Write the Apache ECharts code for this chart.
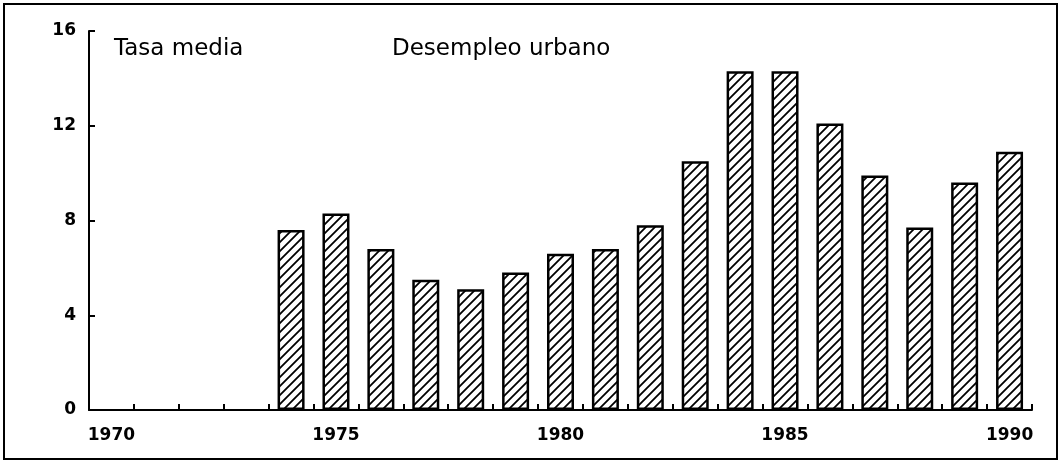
<!DOCTYPE html>
<html>
<head>
<meta charset="utf-8">
<script src="https://cdn.jsdelivr.net/npm/echarts@6/dist/echarts.min.js"></script>
<style>
  html, body { margin: 0; padding: 0; background: #fff; }
  #chart { width: 1063px; height: 461px; }
</style>
</head>
<body>
<div id="chart"></div>
<script>
// años del eje x (1970-1990)
var years = []
for (var y = 1970; y <= 1990; y++) years.push(String(y))

// desempleo urbano, tasa media (sin datos 1970-1973)
var desempleo = [null, null, null, null,
  7.6, 8.3, 6.8, 5.5, 5.1, 5.8, 6.6, 6.8, 7.8,
  10.5, 14.3, 14.3, 12.1, 9.9, 7.7, 9.6, 10.9]

var yTicks = [0, 4, 8, 12, 16]

// trama diagonal de las barras
function hatch() {
  var s = 9
  var c = document.createElement('canvas')
  c.width = s
  c.height = s
  var ctx = c.getContext('2d')
  ctx.fillStyle = '#fff'
  ctx.fillRect(0, 0, s, s)
  ctx.strokeStyle = '#000'
  ctx.lineWidth = 1.8
  ctx.beginPath()
  ctx.moveTo(0, s); ctx.lineTo(s, 0)
  ctx.moveTo(-2, 2); ctx.lineTo(2, -2)
  ctx.moveTo(s - 2, s + 2); ctx.lineTo(s + 2, s - 2)
  ctx.stroke()
  return c
}

var chart = echarts.init(document.getElementById('chart'))
var font = 'DejaVu Sans'

var option = {
  animation: false,
  backgroundColor: '#fff',
  grid: {
    left: 89,
    right: 31,
    top: 31,
    bottom: 51
  },
  graphic: [
    {
      type: 'rect',
      shape: { x: 4, y: 4, width: 1053, height: 455 },
      style: { fill: 'none', stroke: '#000', lineWidth: 2 }
    },
    {
      type: 'text',
      left: 114,
      top: 38,
      style: { text: 'Tasa media', font: '23px "DejaVu Sans"', fill: '#000' }
    },
    {
      type: 'text',
      left: 392,
      top: 38,
      style: { text: 'Desempleo urbano', font: '23px "DejaVu Sans"', fill: '#000' }
    }
  ],
  xAxis: {
    type: 'category',
    data: years,
    boundaryGap: true,
    axisLine: {
      show: true,
      lineStyle: { color: '#000', width: 2 }
    },
    axisTick: {
      show: true,
      inside: true,
      interval: 0,
      length: 6,
      lineStyle: { color: '#000', width: 2 }
    },
    axisLabel: {
      show: true,
      interval: 4,
      margin: 17,
      color: '#000',
      fontFamily: font,
      fontWeight: 'bold',
      fontSize: 17
    },
    splitLine: { show: false }
  },
  yAxis: {
    type: 'value',
    min: yTicks[0],
    max: yTicks[yTicks.length - 1],
    interval: 4,
    axisLine: {
      show: true,
      lineStyle: { color: '#000', width: 2 }
    },
    axisTick: {
      show: true,
      inside: true,
      length: 6,
      lineStyle: { color: '#000', width: 2 }
    },
    axisLabel: {
      show: true,
      margin: 13,
      color: '#000',
      fontFamily: font,
      fontWeight: 'bold',
      fontSize: 17
    },
    splitLine: { show: false }
  },
  series: [
    {
      name: 'Desempleo urbano',
      type: 'bar',
      data: desempleo,
      barWidth: 27,
      itemStyle: {
        color: { image: hatch(), repeat: 'repeat' },
        borderColor: '#000',
        borderWidth: 2.5
      }
    }
  ]
}
chart.setOption(option)
</script>
</body>
</html>
